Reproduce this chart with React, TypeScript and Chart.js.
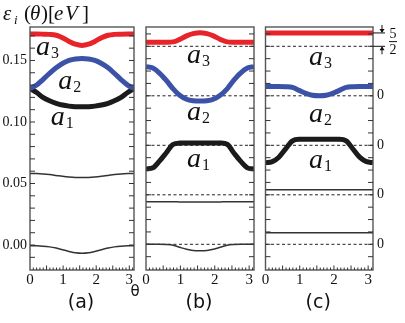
import React, { useEffect, useRef } from "react";
import { Chart, registerables } from "chart.js";
Chart.register(...registerables);

const SERIF = '"Liberation Serif", "DejaVu Serif", serif';
const SANS = '"DejaVu Sans", sans-serif';

// sample angles (theta, 0..pi)
const THETA = [0, 0.2, 0.39, 0.59, 0.79, 0.98, 1.18, 1.37, 1.5708, 1.77, 1.96, 2.16, 2.36, 2.55, 2.75, 2.95, 3.1416];
const X_TICKS = [0, 1, 2, 3];
const Y_TICKS_A = [0, 0.05, 0.1, 0.15];

// (a) energies eps_i(theta) [eV]
const E_A3 = [0.1715, 0.1715, 0.1714, 0.1712, 0.1705, 0.1685, 0.1655, 0.1632, 0.1622, 0.1632, 0.1655, 0.1685, 0.1705, 0.1712, 0.1714, 0.1715, 0.1715];
const E_A2 = [0.1272, 0.13, 0.1345, 0.1395, 0.144, 0.1475, 0.15, 0.1512, 0.1516, 0.1512, 0.15, 0.1475, 0.144, 0.1395, 0.1345, 0.13, 0.1272];
const E_A1 = [0.1272, 0.124, 0.12, 0.1172, 0.1152, 0.1138, 0.1129, 0.1124, 0.1123, 0.1124, 0.1129, 0.1138, 0.1152, 0.1172, 0.12, 0.124, 0.1272];
const E_L1 = [0.0582, 0.0581, 0.0578, 0.0573, 0.0566, 0.0559, 0.0553, 0.0549, 0.0548, 0.0549, 0.0553, 0.0559, 0.0566, 0.0573, 0.0578, 0.0581, 0.0582];
const E_L0 = [-0.0005, -0.0006, -0.0009, -0.0015, -0.0025, -0.0038, -0.0052, -0.0063, -0.0067, -0.0063, -0.0052, -0.0038, -0.0025, -0.0015, -0.0009, -0.0006, -0.0005];

// baselines (offsets) for a3, a2, a1, level1, level0 in panels (b),(c)
const BASELINES = [4, 3, 2, 1, 0];

// (b) C_i(theta)
const C_A3 = [0.08, 0.08, 0.08, 0.082, 0.09, 0.14, 0.21, 0.255, 0.275, 0.255, 0.21, 0.14, 0.09, 0.082, 0.08, 0.08, 0.08];
const C_A2 = [0.586, 0.56, 0.46, 0.31, 0.14, 0.01, -0.07, -0.1, -0.107, -0.1, -0.07, 0.01, 0.14, 0.31, 0.46, 0.56, 0.586];
const C_A1 = [-0.48, -0.455, -0.32, -0.15, 0.02, 0.045, 0.048, 0.045, 0.045, 0.045, 0.048, 0.045, 0.02, -0.15, -0.32, -0.455, -0.48];
const C_L1 = [-0.14, -0.14, -0.14, -0.141, -0.142, -0.143, -0.144, -0.145, -0.145, -0.145, -0.144, -0.143, -0.142, -0.141, -0.14, -0.14, -0.14];
const C_L0 = [0, 0, 0, -0.005, -0.02, -0.06, -0.1, -0.125, -0.13, -0.125, -0.1, -0.06, -0.02, -0.005, 0, 0, 0];

// (c) 5/2 + sum C_i(theta)
const S_A3 = [0.27, 0.27, 0.27, 0.27, 0.27, 0.27, 0.27, 0.27, 0.27, 0.27, 0.27, 0.27, 0.27, 0.27, 0.27, 0.27, 0.27];
const S_A2 = [0.19, 0.19, 0.19, 0.185, 0.17, 0.11, 0.05, 0.01, 0.0, 0.01, 0.05, 0.11, 0.17, 0.185, 0.19, 0.19, 0.19];
const S_A1 = [-0.35, -0.33, -0.24, -0.07, 0.09, 0.12, 0.12, 0.12, 0.12, 0.12, 0.12, 0.12, 0.09, -0.07, -0.24, -0.33, -0.35];
const S_L1 = [0.1, 0.1, 0.1, 0.1, 0.1, 0.1, 0.1, 0.1, 0.1, 0.1, 0.1, 0.1, 0.1, 0.1, 0.1, 0.1, 0.1];
const S_L0 = [0.235, 0.235, 0.235, 0.235, 0.235, 0.235, 0.235, 0.235, 0.235, 0.235, 0.235, 0.235, 0.235, 0.235, 0.235, 0.235, 0.235];

const RED = "#e8242b";
const BLUE = "#3b52a6";
const BLACK = "#1b1b1b";
const GREY = "#333333";

function series(values: number[], color: string, width: number) {
  return {
    data: THETA.map((t, i) => ({ x: t, y: values[i] })),
    borderColor: color,
    borderWidth: width,
    pointRadius: 0,
    cubicInterpolationMode: "monotone",
    fill: false,
  };
}
function shifted(values: number[], base: number, color: string, width: number) {
  return series(values.map((v) => v + base), color, width);
}
function dashed(base: number) {
  return {
    data: [
      { x: 0, y: base },
      { x: Math.PI, y: base },
    ],
    borderColor: "#222",
    borderWidth: 1,
    borderDash: [3, 2.5],
    pointRadius: 0,
    fill: false,
  };
}

function line(ctx: CanvasRenderingContext2D, x1: number, y1: number, x2: number, y2: number) {
  ctx.beginPath();
  ctx.moveTo(x1, y1);
  ctx.lineTo(x2, y2);
  ctx.stroke();
}

function frame(chart: any, yStep: number) {
  const { ctx, chartArea } = chart;
  const { left, right, top, bottom } = chartArea;
  const xs = chart.scales.x;
  const ys = chart.scales.y;
  ctx.save();
  ctx.strokeStyle = "#555";
  ctx.lineWidth = 1.4;
  ctx.strokeRect(left, top, right - left, bottom - top);
  ctx.strokeStyle = "#333";
  ctx.lineWidth = 1;
  const start = Math.ceil(ys.min / yStep);
  const end = Math.floor(ys.max / yStep);
  for (let k = start; k <= end; k++) {
    const y = ys.getPixelForValue(k * yStep);
    if (y > bottom - 2 || y < top + 2) continue;
    line(ctx, left, y, left + 5, y);
    line(ctx, right - 5, y, right, y);
  }
  for (let k = 1; k <= 31; k++) {
    const x = xs.getPixelForValue(k / 10);
    const len = k % 5 === 0 ? 4.5 : 2.5;
    line(ctx, x, bottom, x, bottom - len);
  }
  ctx.restore();
}

type Run = [string, string, number, number]; // text, font, x, y
function runs(ctx: CanvasRenderingContext2D, parts: Run[]) {
  for (const [t, f, x, y] of parts) {
    ctx.font = f;
    ctx.fillText(t, x, y);
  }
}

function aLabel(chart: any, t: number, v: number, sub: string) {
  const { ctx } = chart;
  const x = chart.scales.x.getPixelForValue(t);
  const y = chart.scales.y.getPixelForValue(v);
  ctx.font = `italic 28px ${SERIF}`;
  ctx.fillText("a", x, y);
  const w = ctx.measureText("a").width;
  ctx.font = `16px ${SERIF}`;
  ctx.fillText(sub, x + w + 1, y + 3);
}

function bottomText(chart: any, tag: string, thetaX: number) {
  const { ctx, chartArea } = chart;
  ctx.save();
  ctx.fillStyle = "#111";
  ctx.textAlign = "center";
  ctx.textBaseline = "middle";
  ctx.font = `19px ${SANS}`;
  ctx.fillText(tag, (chartArea.left + chartArea.right) / 2 - 1, 303);
  ctx.font = `15px ${SANS}`;
  ctx.fillText("θ", thetaX, 292);
  ctx.restore();
}

const IT = (s: number) => `italic ${s}px ${SERIF}`;
const UP = (s: number) => `${s}px ${SERIF}`;

function decoA(chart: any) {
  const { ctx } = chart;
  frame(chart, 0.01);
  ctx.save();
  ctx.fillStyle = "#111";
  ctx.textAlign = "left";
  ctx.textBaseline = "alphabetic";
  runs(ctx, [
    ["ε", IT(21), 3, 20],
    ["i", IT(13), 14, 24],
    ["(", UP(21), 24, 20],
    ["θ", IT(21), 30, 20],
    [")", UP(21), 41, 20],
    ["[", UP(21), 48, 20],
    ["e", IT(21), 54, 20],
    ["V", IT(21), 65, 20],
    ["]", UP(21), 82, 20],
  ]);
  aLabel(chart, 0.18, 0.1545, "3");
  aLabel(chart, 0.85, 0.1268, "2");
  aLabel(chart, 0.63, 0.0976, "1");
  ctx.restore();
  bottomText(chart, "(a)", 135);
}

function decoB(chart: any) {
  const { ctx } = chart;
  frame(chart, 0.25);
  ctx.save();
  ctx.fillStyle = "#111";
  ctx.textAlign = "left";
  ctx.textBaseline = "alphabetic";
  runs(ctx, [
    ["C", IT(21), 145, 21],
    ["i", IT(13), 159, 25],
    ["(", UP(21), 167, 21],
    ["θ", IT(21), 173, 21],
    [")", UP(21), 184, 21],
  ]);
  aLabel(chart, 1.19, 3.663, "3");
  aLabel(chart, 1.19, 2.511, "2");
  aLabel(chart, 1.19, 1.562, "1");
  ctx.restore();
  bottomText(chart, "(b)", 255);
}

function decoC(chart: any) {
  const { ctx, chartArea } = chart;
  const ys = chart.scales.y;
  frame(chart, 0.25);
  ctx.save();
  ctx.fillStyle = "#111";
  ctx.strokeStyle = "#111";
  ctx.textAlign = "left";
  ctx.textBaseline = "alphabetic";
  // title: 5/2 + sum C_i(theta)
  ctx.textAlign = "center";
  ctx.font = UP(11);
  ctx.fillText("5", 271, 13);
  ctx.fillText("2", 271, 25);
  ctx.lineWidth = 0.8;
  line(ctx, 267, 16, 275, 16);
  ctx.textAlign = "left";
  runs(ctx, [
    ["+", UP(15), 277, 21],
    ["∑", UP(22), 287, 23],
    ["C", IT(21), 303, 21],
    ["i", IT(13), 316, 25],
    ["(", UP(21), 323, 21],
    ["θ", IT(21), 329, 21],
    [")", UP(21), 341, 21],
  ]);
  aLabel(chart, 1.27, 3.622, "3");
  aLabel(chart, 1.27, 2.471, "2");
  aLabel(chart, 1.27, 1.541, "1");
  // zero labels
  ctx.font = UP(14);
  ctx.textBaseline = "middle";
  for (const b of BASELINES.slice(1)) {
    ctx.fillText("0", chartArea.right + 4, ys.getPixelForValue(b));
  }
  // 5/2 arrows
  const yR = ys.getPixelForValue(BASELINES[0] + S_A3[0]);
  const yB = ys.getPixelForValue(BASELINES[0]);
  const r = chartArea.right;
  ctx.lineWidth = 1;
  line(ctx, r, yR, r + 12, yR);
  line(ctx, r, yB, r + 12, yB);
  const ax = r + 9;
  line(ctx, ax, yR - 8, ax, yR - 1);
  ctx.beginPath();
  ctx.moveTo(ax - 2.5, yR - 4);
  ctx.lineTo(ax + 2.5, yR - 4);
  ctx.lineTo(ax, yR);
  ctx.closePath();
  ctx.fill();
  line(ctx, ax, yB + 8, ax, yB + 1);
  ctx.beginPath();
  ctx.moveTo(ax - 2.5, yB + 4);
  ctx.lineTo(ax + 2.5, yB + 4);
  ctx.lineTo(ax, yB);
  ctx.closePath();
  ctx.fill();
  ctx.textAlign = "center";
  ctx.font = UP(14);
  ctx.fillText("5", r + 20, yR + 1);
  ctx.fillText("2", r + 20, yB + 4);
  line(ctx, r + 16, (yR + yB) / 2 + 2, r + 24, (yR + yB) / 2 + 2);
  ctx.restore();
  bottomText(chart, "(c)", 373);
}

function xScale(height: number) {
  return {
    type: "linear",
    min: 0,
    max: Math.PI,
    afterBuildTicks: (s: any) => {
      s.ticks = X_TICKS.map((v) => ({ value: v }));
    },
    afterFit: (s: any) => {
      s.height = height;
    },
    grid: { display: false, drawTicks: false },
    border: { display: false },
    ticks: { font: { family: SERIF, size: 15 }, color: "#111", padding: 1, maxRotation: 0, autoSkip: false },
  };
}

function baseOptions(padding: any, yScale: any) {
  return {
    responsive: false,
    animation: false,
    devicePixelRatio: 1,
    events: [],
    layout: { padding },
    plugins: { legend: { display: false }, tooltip: { enabled: false }, title: { display: false } },
    scales: { x: xScale(53), y: yScale },
  };
}

function buildA() {
  return {
    type: "line",
    data: {
      datasets: [
        series(E_A3, RED, 5),
        series(E_A2, BLUE, 5),
        series(E_A1, BLACK, 5),
        series(E_L1, GREY, 1.5),
        series(E_L0, GREY, 1.5),
      ],
    },
    options: baseOptions(
      { left: 0, right: 6, top: 27, bottom: 0 },
      {
        type: "linear",
        min: -0.0203,
        max: 0.1772,
        afterBuildTicks: (s: any) => {
          s.ticks = Y_TICKS_A.map((v) => ({ value: v }));
        },
        afterFit: (s: any) => {
          s.width = 30;
        },
        grid: { display: false, drawTicks: false },
        border: { display: false },
        ticks: {
          font: { family: SERIF, size: 14 },
          color: "#111",
          padding: 3,
          callback: (v: any) => Number(v).toFixed(2),
        },
      }
    ),
    plugins: [{ id: "decoA", afterDraw: (c: any) => decoA(c) }],
  };
}

function yOffsetScale() {
  return {
    type: "linear",
    display: false,
    min: -0.519,
    max: 4.39,
  };
}

function buildB() {
  return {
    type: "line",
    data: {
      datasets: [
        shifted(C_A3, BASELINES[0], RED, 5),
        shifted(C_A2, BASELINES[1], BLUE, 5),
        shifted(C_A1, BASELINES[2], BLACK, 5),
        shifted(C_L1, BASELINES[3], GREY, 1.5),
        shifted(C_L0, BASELINES[4], GREY, 1.5),
        ...BASELINES.map((b) => dashed(b)),
      ],
    },
    options: baseOptions({ left: 6, right: 6, top: 27, bottom: 0 }, yOffsetScale()),
    plugins: [{ id: "decoB", afterDraw: (c: any) => decoB(c) }],
  };
}

function buildC() {
  return {
    type: "line",
    data: {
      datasets: [
        shifted(S_A3, BASELINES[0], RED, 5),
        shifted(S_A2, BASELINES[1], BLUE, 5),
        shifted(S_A1, BASELINES[2], BLACK, 5),
        shifted(S_L1, BASELINES[3], GREY, 1.5),
        shifted(S_L0, BASELINES[4], GREY, 1.5),
        ...BASELINES.map((b) => dashed(b)),
      ],
    },
    options: baseOptions({ left: 5.5, right: 32, top: 27, bottom: 0 }, yOffsetScale()),
    plugins: [{ id: "decoC", afterDraw: (c: any) => decoC(c) }],
  };
}

function Panel({ left, width, build }: { left: number; width: number; build: () => any }) {
  const ref = useRef<HTMLCanvasElement>(null);
  useEffect(() => {
    const chart = new Chart(ref.current as HTMLCanvasElement, build() as any);
    return () => chart.destroy();
  }, []);
  return (
    <canvas
      ref={ref}
      width={width}
      height={323}
      style={{ position: "absolute", left, top: 0, width, height: 323, display: "block" }}
    />
  );
}

export default function App() {
  return (
    <div style={{ position: "fixed", left: 0, top: 0, width: 405, height: 323, background: "#fff", overflow: "hidden" }}>
      <Panel left={0} width={140} build={buildA} />
      <Panel left={140} width={120} build={buildB} />
      <Panel left={260} width={145} build={buildC} />
    </div>
  );
}
